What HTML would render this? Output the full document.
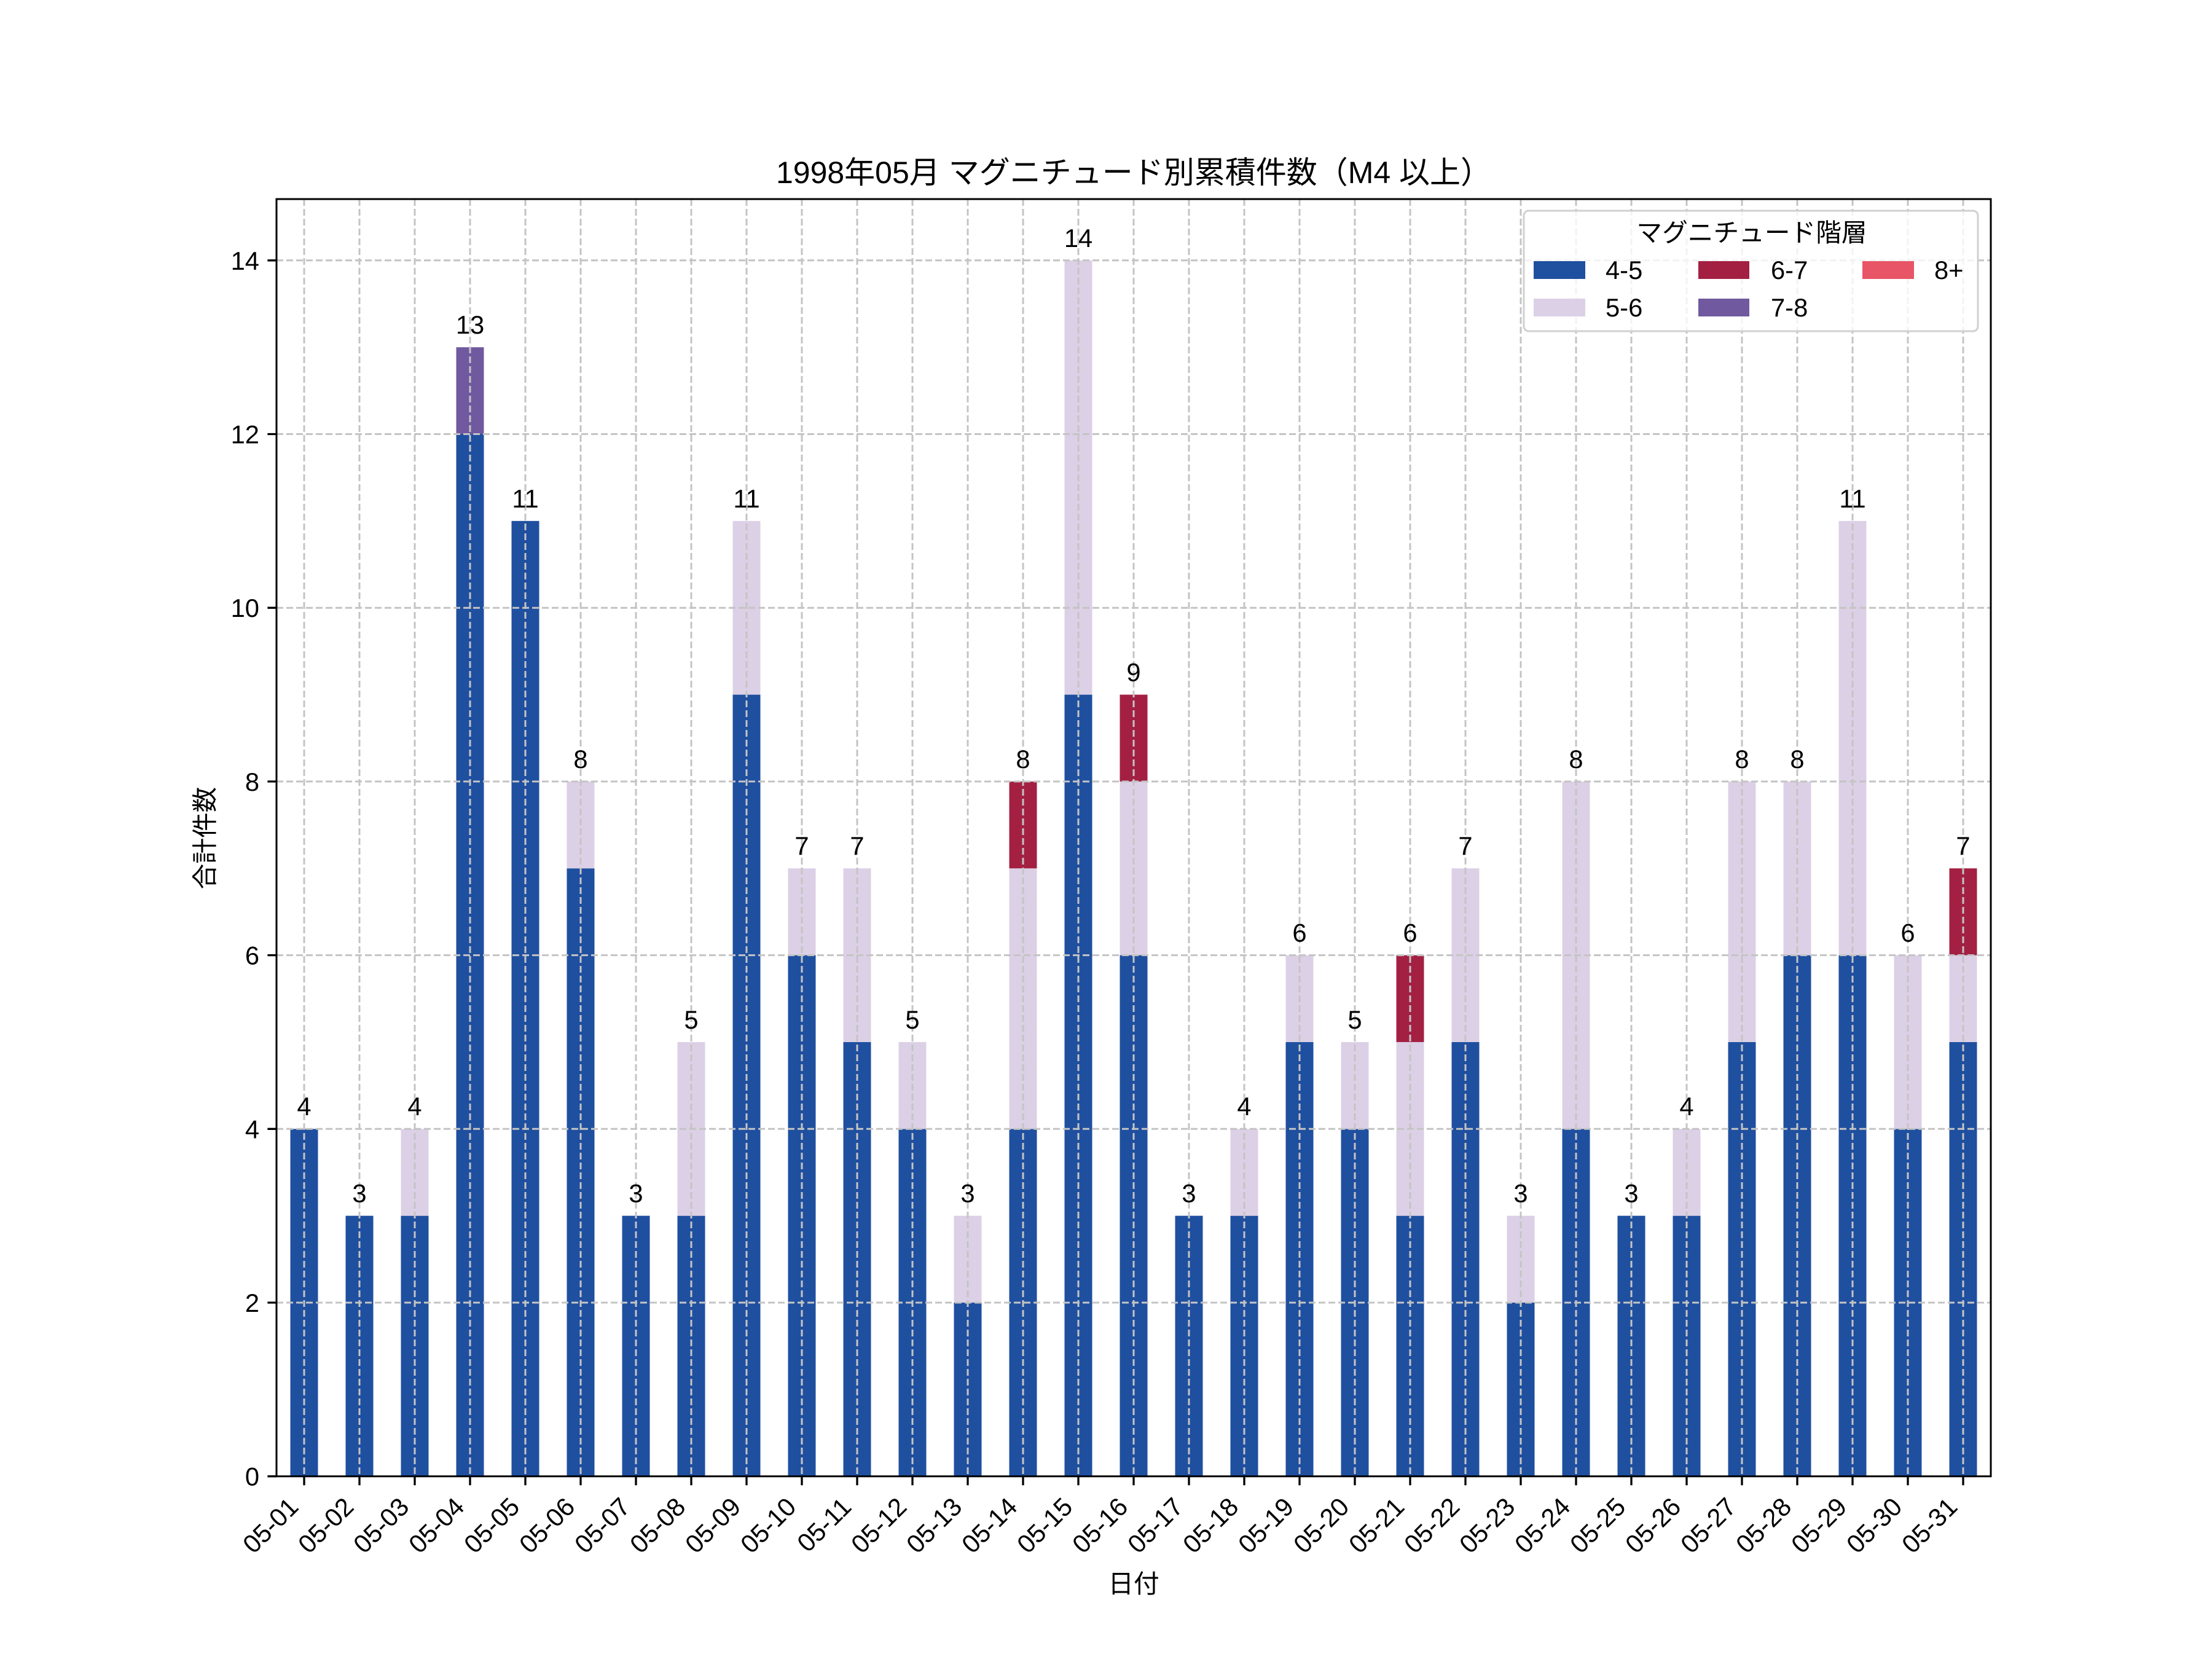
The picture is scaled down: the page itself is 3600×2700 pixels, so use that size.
<!DOCTYPE html>
<html><head><meta charset="utf-8"><style>
html,body{margin:0;padding:0;background:#fff}
svg{display:block}
text{font-family:"Liberation Sans","Noto Sans CJK JP",sans-serif;fill:#000}
</style></head><body>
<svg width="3600" height="2700" viewBox="0 0 3600 2700" xmlns="http://www.w3.org/2000/svg">
<rect width="3600" height="2700" fill="#fff"/>
<g transform="translate(0,2402.7) scale(1,-141.35)">
<g fill="#1f4f9f">
<rect x="472.5" y="0" width="45" height="4"/><rect x="562.5" y="0" width="45" height="3"/><rect x="652.5" y="0" width="45" height="3"/><rect x="742.5" y="0" width="45" height="12"/><rect x="832.5" y="0" width="45" height="11"/><rect x="922.5" y="0" width="45" height="7"/><rect x="1012.5" y="0" width="45" height="3"/><rect x="1102.5" y="0" width="45" height="3"/><rect x="1192.5" y="0" width="45" height="9"/><rect x="1282.5" y="0" width="45" height="6"/><rect x="1372.5" y="0" width="45" height="5"/><rect x="1462.5" y="0" width="45" height="4"/><rect x="1552.5" y="0" width="45" height="2"/><rect x="1642.5" y="0" width="45" height="4"/><rect x="1732.5" y="0" width="45" height="9"/><rect x="1822.5" y="0" width="45" height="6"/><rect x="1912.5" y="0" width="45" height="3"/><rect x="2002.5" y="0" width="45" height="3"/><rect x="2092.5" y="0" width="45" height="5"/><rect x="2182.5" y="0" width="45" height="4"/><rect x="2272.5" y="0" width="45" height="3"/><rect x="2362.5" y="0" width="45" height="5"/><rect x="2452.5" y="0" width="45" height="2"/><rect x="2542.5" y="0" width="45" height="4"/><rect x="2632.5" y="0" width="45" height="3"/><rect x="2722.5" y="0" width="45" height="3"/><rect x="2812.5" y="0" width="45" height="5"/><rect x="2902.5" y="0" width="45" height="6"/><rect x="2992.5" y="0" width="45" height="6"/><rect x="3082.5" y="0" width="45" height="4"/><rect x="3172.5" y="0" width="45" height="5"/>
</g>
<g fill="#dcd0e6">
<rect x="652.5" y="3" width="45" height="1"/><rect x="922.5" y="7" width="45" height="1"/><rect x="1102.5" y="3" width="45" height="2"/><rect x="1192.5" y="9" width="45" height="2"/><rect x="1282.5" y="6" width="45" height="1"/><rect x="1372.5" y="5" width="45" height="2"/><rect x="1462.5" y="4" width="45" height="1"/><rect x="1552.5" y="2" width="45" height="1"/><rect x="1642.5" y="4" width="45" height="3"/><rect x="1732.5" y="9" width="45" height="5"/><rect x="1822.5" y="6" width="45" height="2"/><rect x="2002.5" y="3" width="45" height="1"/><rect x="2092.5" y="5" width="45" height="1"/><rect x="2182.5" y="4" width="45" height="1"/><rect x="2272.5" y="3" width="45" height="2"/><rect x="2362.5" y="5" width="45" height="2"/><rect x="2452.5" y="2" width="45" height="1"/><rect x="2542.5" y="4" width="45" height="4"/><rect x="2722.5" y="3" width="45" height="1"/><rect x="2812.5" y="5" width="45" height="3"/><rect x="2902.5" y="6" width="45" height="2"/><rect x="2992.5" y="6" width="45" height="5"/><rect x="3082.5" y="4" width="45" height="2"/><rect x="3172.5" y="5" width="45" height="1"/>
</g>
<g fill="#a32043">
<rect x="1642.5" y="7" width="45" height="1"/><rect x="1822.5" y="8" width="45" height="1"/><rect x="2272.5" y="5" width="45" height="1"/><rect x="3172.5" y="6" width="45" height="1"/>
</g>
<rect x="742.5" y="12" width="45" height="1" fill="#7159a0"/>
</g>
<!-- grid -->
<g stroke="#c4c4c4" stroke-width="3" stroke-dasharray="11,5" fill="none">
<path d="M495 324V2402.7M585 324V2402.7M675 324V2402.7M765 324V2402.7M855 324V2402.7M945 324V2402.7M1035 324V2402.7M1125 324V2402.7M1215 324V2402.7M1305 324V2402.7M1395 324V2402.7M1485 324V2402.7M1575 324V2402.7M1665 324V2402.7M1755 324V2402.7M1845 324V2402.7M1935 324V2402.7M2025 324V2402.7M2115 324V2402.7M2205 324V2402.7M2295 324V2402.7M2385 324V2402.7M2475 324V2402.7M2565 324V2402.7M2655 324V2402.7M2745 324V2402.7M2835 324V2402.7M2925 324V2402.7M3015 324V2402.7M3105 324V2402.7M3195 324V2402.7"/>
<path d="M450 2261.35H3240M450 2120H3240M450 1837.3H3240M450 1554.6H3240M450 1271.9H3240M450 989.2H3240M450 706.5H3240M450 423.8H3240" opacity="0"/>
<path d="M450 2120H3240M450 1837.3H3240M450 1554.6H3240M450 1271.9H3240M450 989.2H3240M450 706.5H3240M450 423.8H3240"/>
</g>
<!-- value labels -->
<g font-size="41.7" text-anchor="middle">
<text x="495" y="1815">4</text><text x="585" y="1956.6">3</text><text x="675" y="1815">4</text><text x="765" y="543">13</text><text x="855" y="826">11</text><text x="945" y="1250">8</text><text x="1035" y="1956.6">3</text><text x="1125" y="1674">5</text><text x="1215" y="826">11</text><text x="1305" y="1391">7</text><text x="1395" y="1391">7</text><text x="1485" y="1674">5</text><text x="1575" y="1956.6">3</text><text x="1665" y="1250">8</text><text x="1755" y="402">14</text><text x="1845" y="1108.5">9</text><text x="1935" y="1956.6">3</text><text x="2025" y="1815">4</text><text x="2115" y="1532.6">6</text><text x="2205" y="1674">5</text><text x="2295" y="1532.6">6</text><text x="2385" y="1391">7</text><text x="2475" y="1956.6">3</text><text x="2565" y="1250">8</text><text x="2655" y="1956.6">3</text><text x="2745" y="1815">4</text><text x="2835" y="1250">8</text><text x="2925" y="1250">8</text><text x="3015" y="826">11</text><text x="3105" y="1532.6">6</text><text x="3195" y="1391">7</text>
</g>
<!-- axes -->
<rect x="450" y="324" width="2790" height="2078.7" fill="none" stroke="#000" stroke-width="3"/>
<g stroke="#000" stroke-width="3.3">
<path d="M450 2402.7h-14.6M450 2120h-14.6M450 1837.3h-14.6M450 1554.6h-14.6M450 1271.9h-14.6M450 989.2h-14.6M450 706.5h-14.6M450 423.8h-14.6"/>
<path d="M495 2402.7v14.6M585 2402.7v14.6M675 2402.7v14.6M765 2402.7v14.6M855 2402.7v14.6M945 2402.7v14.6M1035 2402.7v14.6M1125 2402.7v14.6M1215 2402.7v14.6M1305 2402.7v14.6M1395 2402.7v14.6M1485 2402.7v14.6M1575 2402.7v14.6M1665 2402.7v14.6M1755 2402.7v14.6M1845 2402.7v14.6M1935 2402.7v14.6M2025 2402.7v14.6M2115 2402.7v14.6M2205 2402.7v14.6M2295 2402.7v14.6M2385 2402.7v14.6M2475 2402.7v14.6M2565 2402.7v14.6M2655 2402.7v14.6M2745 2402.7v14.6M2835 2402.7v14.6M2925 2402.7v14.6M3015 2402.7v14.6M3105 2402.7v14.6M3195 2402.7v14.6"/>
</g>
<g font-size="41.7" text-anchor="end">
<text x="422" y="2417.7">0</text><text x="422" y="2135">2</text><text x="422" y="1852.3">4</text><text x="422" y="1569.6">6</text><text x="422" y="1286.9">8</text><text x="422" y="1004.2">10</text><text x="422" y="721.5">12</text><text x="422" y="438.8">14</text>
</g>
<g font-size="41.7" text-anchor="end">
<text transform="translate(488,2455) rotate(-45)">05-01</text>
<text transform="translate(578,2455) rotate(-45)">05-02</text>
<text transform="translate(668,2455) rotate(-45)">05-03</text>
<text transform="translate(758,2455) rotate(-45)">05-04</text>
<text transform="translate(848,2455) rotate(-45)">05-05</text>
<text transform="translate(938,2455) rotate(-45)">05-06</text>
<text transform="translate(1028,2455) rotate(-45)">05-07</text>
<text transform="translate(1118,2455) rotate(-45)">05-08</text>
<text transform="translate(1208,2455) rotate(-45)">05-09</text>
<text transform="translate(1298,2455) rotate(-45)">05-10</text>
<text transform="translate(1388,2455) rotate(-45)">05-11</text>
<text transform="translate(1478,2455) rotate(-45)">05-12</text>
<text transform="translate(1568,2455) rotate(-45)">05-13</text>
<text transform="translate(1658,2455) rotate(-45)">05-14</text>
<text transform="translate(1748,2455) rotate(-45)">05-15</text>
<text transform="translate(1838,2455) rotate(-45)">05-16</text>
<text transform="translate(1928,2455) rotate(-45)">05-17</text>
<text transform="translate(2018,2455) rotate(-45)">05-18</text>
<text transform="translate(2108,2455) rotate(-45)">05-19</text>
<text transform="translate(2198,2455) rotate(-45)">05-20</text>
<text transform="translate(2288,2455) rotate(-45)">05-21</text>
<text transform="translate(2378,2455) rotate(-45)">05-22</text>
<text transform="translate(2468,2455) rotate(-45)">05-23</text>
<text transform="translate(2558,2455) rotate(-45)">05-24</text>
<text transform="translate(2648,2455) rotate(-45)">05-25</text>
<text transform="translate(2738,2455) rotate(-45)">05-26</text>
<text transform="translate(2828,2455) rotate(-45)">05-27</text>
<text transform="translate(2918,2455) rotate(-45)">05-28</text>
<text transform="translate(3008,2455) rotate(-45)">05-29</text>
<text transform="translate(3098,2455) rotate(-45)">05-30</text>
<text transform="translate(3188,2455) rotate(-45)">05-31</text>
</g>
<text x="1845" y="2592" font-size="41.7" text-anchor="middle">日付</text>
<text transform="translate(348,1364) rotate(-90)" font-size="41.7" text-anchor="middle">合計件数</text>
<text x="1845" y="298" font-size="50" text-anchor="middle">1998年05月 マグニチュード別累積件数（M4 以上）</text>
<!-- legend -->
<rect x="2480" y="343" width="739" height="196" rx="8" fill="#fff" fill-opacity="0.8" stroke="#d0d0d0" stroke-width="3"/>
<text x="2851" y="393" font-size="41.7" text-anchor="middle">マグニチュード階層</text>
<rect x="2496" y="425" width="84" height="29" fill="#1f4f9f"/>
<rect x="2496" y="486" width="84" height="29" fill="#dcd0e6"/>
<rect x="2764" y="425" width="83" height="29" fill="#a32043"/>
<rect x="2764" y="486" width="83" height="29" fill="#7159a0"/>
<rect x="3031" y="425" width="84" height="29" fill="#e85566"/>
<g font-size="41.7">
<text x="2613" y="454">4-5</text><text x="2613" y="515">5-6</text>
<text x="2882" y="454">6-7</text><text x="2882" y="515">7-8</text>
<text x="3148" y="454">8+</text>
</g>
</svg>
</body></html>
